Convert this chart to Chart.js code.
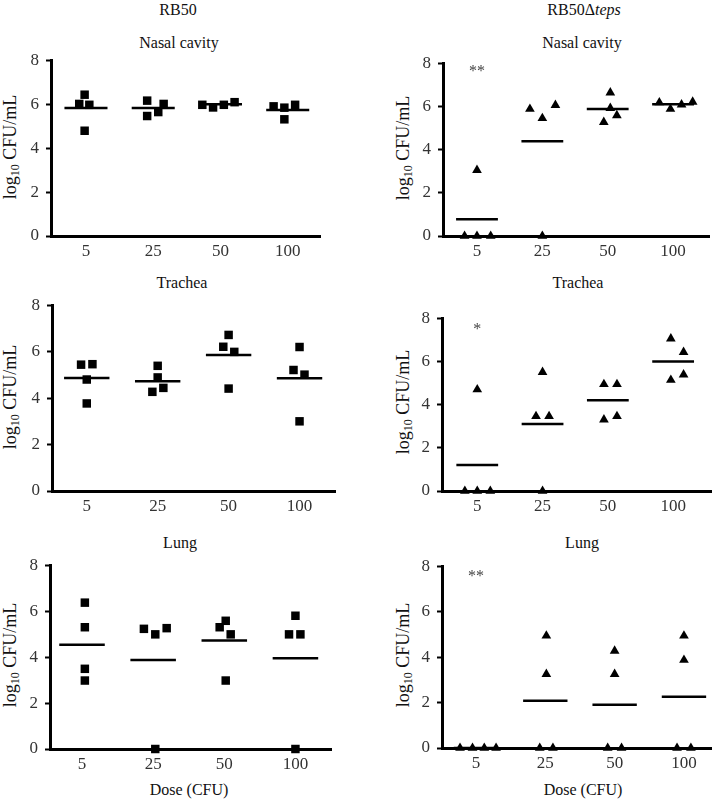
<!DOCTYPE html>
<html>
<head>
<meta charset="utf-8">
<script src="https://cdn.jsdelivr.net/npm/chart.js@4.4.1/dist/chart.umd.min.js"></script>
<style>
    body { margin: 0; background: #fff; }
    #page { position: relative; width: 723px; height: 801px; overflow: hidden;
            font-family: "Liberation Serif", "Times New Roman", serif; color: #111; }
    .lbl { position: absolute; transform: translate(-50%, -50%); font-size: 16px; line-height: 1; white-space: nowrap; }
    .ylab { position: absolute; transform: translate(-50%, -50%) rotate(-90deg); font-size: 18px; line-height: 1; white-space: nowrap; }
    .ylab sub { font-size: 12px; vertical-align: -3px; line-height: 0; }
    canvas { position: absolute; }
</style>
</head>
<body>
<div id="page">
    <div class="lbl" style="left:178px;top:10px">RB50</div>
    <div class="lbl" style="left:584px;top:10px">RB50Δ<i>teps</i></div>

    <div class="lbl" style="left:179px;top:43px">Nasal cavity</div>
    <div class="lbl" style="left:582px;top:43px">Nasal cavity</div>
    <div class="lbl" style="left:182px;top:283px">Trachea</div>
    <div class="lbl" style="left:578px;top:283px">Trachea</div>
    <div class="lbl" style="left:180px;top:543px">Lung</div>
    <div class="lbl" style="left:582px;top:543px">Lung</div>

    <div class="lbl" style="left:189px;top:790px">Dose (CFU)</div>
    <div class="lbl" style="left:583px;top:790px">Dose (CFU)</div>

    <div class="ylab" style="left:10px;top:147px">log<sub>10</sub> CFU/mL</div>
    <div class="ylab" style="left:403px;top:148px">log<sub>10</sub> CFU/mL</div>
    <div class="ylab" style="left:10px;top:397px">log<sub>10</sub> CFU/mL</div>
    <div class="ylab" style="left:403px;top:402px">log<sub>10</sub> CFU/mL</div>
    <div class="ylab" style="left:10px;top:655px">log<sub>10</sub> CFU/mL</div>
    <div class="ylab" style="left:403px;top:655px">log<sub>10</sub> CFU/mL</div>
</div>

<script>
// doses on the x axis
const doses = ['5', '25', '50', '100'];

// log10 CFU/mL per mouse, one inner array per dose
const rb50Nasal = [[6.43, 6.01, 5.97, 4.79], [6.16, 5.46, 5.64, 6.01], [5.97, 5.85, 5.97, 6.09], [5.90, 5.84, 5.97, 5.31]];
const rb50Trachea = [[5.44, 5.46, 4.80, 3.77], [5.39, 4.89, 4.27, 4.44], [6.72, 6.21, 5.99, 4.41], [6.20, 5.21, 5.01, 3.00]];
const rb50Lung = [[6.37, 5.30, 3.49, 2.98], [5.23, 4.99, 5.26, 0], [5.30, 5.58, 4.99, 2.98], [5.80, 4.99, 4.99, 0]];
const tepsNasal = [[0, 0, 0, 3.05], [5.88, 5.45, 6.06, 0], [6.64, 5.92, 5.27, 5.58], [6.18, 5.88, 6.08, 6.21]];
const tepsTrachea = [[0, 0, 0, 4.70], [5.50, 3.46, 3.46, 0], [4.94, 4.94, 3.30, 3.46], [7.05, 6.43, 5.14, 5.39]];
const tepsLung = [[0, 0, 0, 0], [4.94, 3.25, 0, 0], [4.27, 3.25, 0, 0], [4.94, 3.87, 0, 0]];

// horizontal spread of the points inside each dose group (dose units)
const rb50NasalDx = [[-0.02, -0.1, 0.05, -0.02], [-0.09, -0.09, 0.075, 0.155], [-0.27, -0.11, 0.05, 0.21], [-0.21, -0.05, 0.11, -0.05]];
const rb50TracheaDx = [[-0.08, 0.08, 0, 0], [0, 0, -0.075, 0.08], [0, -0.075, 0.08, 0], [0, -0.085, 0.07, 0]];
const rb50LungDx = [[0.04, 0.04, 0.04, 0.04], [-0.13, 0.03, 0.19, 0.03], [-0.065, 0.02, 0.09, 0.02], [0, -0.09, 0.07, 0]];
const tepsNasalDx = [[-0.19, 0, 0.21, 0], [-0.19, 0, 0.2, 0], [0.04, 0.04, -0.06, 0.14], [-0.21, -0.04, 0.13, 0.30]];
const tepsTracheaDx = [[-0.19, 0, 0.2, 0], [0, -0.1, 0.1, 0], [-0.06, 0.14, -0.06, 0.14], [-0.035, 0.16, -0.035, 0.16]];
const tepsLungDx = [[-0.23, -0.05, 0.12, 0.29], [0.015, 0.015, -0.08, 0.11], [0, 0, -0.1, 0.1], [0, 0, -0.1, 0.1]];

// group means (horizontal bars)
const rb50NasalMean = [5.82, 5.82, 6.0, 5.73];
const rb50TracheaMean = [4.87, 4.73, 5.86, 4.86];
const rb50LungMean = [4.54, 3.87, 4.72, 3.95];
const tepsNasalMean = [0.77, 4.39, 5.88, 6.1];
const tepsTracheaMean = [1.2, 3.1, 4.2, 6.0];
const tepsLungMean = [0, 2.08, 1.9, 2.25];

// significance marks above the 5 CFU group
const sigText = ['', '**', '', '*', '', '**'];
const sigLevel = [0, 7.8, 0, 7.66, 0, 7.7];

const LEFT_W = 48, PAD_T = 14, PAD_R = 8, BOTTOM_H = 30;
const FONT = '"Liberation Serif", "Times New Roman", serif';

// where each panel's axes sit on the page
const panels = [
    { vals: rb50Nasal, dx: rb50NasalDx, mean: rb50NasalMean, marker: 'rect', axisX: 51, top: 57, zero: 236, right: 320, xMin: 0.48, xMax: 4.48 },
    { vals: tepsNasal, dx: tepsNasalDx, mean: tepsNasalMean, marker: 'triangle', axisX: 443, top: 60, zero: 236, right: 709, xMin: 0.48, xMax: 4.55 },
    { vals: rb50Trachea, dx: rb50TracheaDx, mean: rb50TracheaMean, marker: 'rect', axisX: 52, top: 302, zero: 491, right: 335, xMin: 0.51, xMax: 4.5 },
    { vals: tepsTrachea, dx: tepsTracheaDx, mean: tepsTracheaMean, marker: 'triangle', axisX: 442, top: 315, zero: 491, right: 711, xMin: 0.46, xMax: 4.58 },
    { vals: rb50Lung, dx: rb50LungDx, mean: rb50LungMean, marker: 'rect', axisX: 50, top: 562, zero: 749, right: 331, xMin: 0.55, xMax: 4.5 },
    { vals: tepsLung, dx: tepsLungDx, mean: tepsLungMean, marker: 'triangle', axisX: 442, top: 563, zero: 748, right: 711, xMin: 0.51, xMax: 4.39 }
];

// draws the asterisks
const sigPlugin = {
    id: 'sig',
    afterDatasetsDraw(chart, args, opts) {
        if (!opts.text) return;
        const ctx = chart.ctx;
        ctx.save();
        ctx.font = '16px ' + FONT;
        ctx.fillStyle = '#444';
        ctx.textAlign = 'center';
        ctx.textBaseline = 'alphabetic';
        ctx.fillText(opts.text, chart.scales.x.getPixelForValue(1), chart.scales.y.getPixelForValue(opts.level) + 8);
        ctx.restore();
    }
};

const page = document.getElementById('page');

panels.forEach((p, k) => {
    const canvas = document.createElement('canvas');
    const w = p.right - p.axisX + LEFT_W + PAD_R;
    const h = p.zero - p.top + PAD_T + BOTTOM_H;
    canvas.width = w;
    canvas.height = h;
    canvas.style.left = (p.axisX - LEFT_W) + 'px';
    canvas.style.top = (p.top - PAD_T) + 'px';
    canvas.style.width = w + 'px';
    canvas.style.height = h + 'px';
    page.appendChild(canvas);

    const points = [];
    p.vals.forEach((group, i) => {
        group.forEach((v, j) => {
            points.push({ x: i + 1 + p.dx[i][j], y: v });
        });
    });

    const meanSets = p.mean.map((m, i) => ({
        type: 'line',
        data: [{ x: i + 1 - 0.32, y: m }, { x: i + 1 + 0.32, y: m }],
        showLine: true,
        borderColor: '#000',
        borderWidth: 2.5,
        pointRadius: 0,
        clip: false
    }));

    new Chart(canvas.getContext('2d'), {
        type: 'scatter',
        data: {
            datasets: [{
                data: points,
                pointStyle: p.marker,
                pointRadius: p.marker === 'rect' ? 6 : 5.6,
                backgroundColor: '#000',
                borderColor: '#000',
                borderWidth: 0,
                clip: false
            }].concat(meanSets)
        },
        options: {
            responsive: false,
            animation: false,
            layout: { padding: { top: PAD_T, right: PAD_R, left: 0, bottom: 0 } },
            plugins: {
                legend: { display: false },
                tooltip: { enabled: false },
                sig: { text: sigText[k], level: sigLevel[k] }
            },
            scales: {
                x: {
                    type: 'linear',
                    min: p.xMin,
                    max: p.xMax,
                    afterBuildTicks: (scale) => {
                        scale.ticks = doses.map((d, i) => ({ value: i + 1 }));
                    },
                    afterFit: (scale) => { scale.height = BOTTOM_H; },
                    ticks: {
                        callback: (value, index) => doses[index],
                        font: { family: FONT, size: 17 },
                        color: '#333',
                        padding: 5,
                        autoSkip: false,
                        maxRotation: 0
                    },
                    grid: { display: false, drawTicks: false },
                    border: { display: true, color: '#000', width: 3 }
                },
                y: {
                    min: 0,
                    max: 8,
                    afterFit: (scale) => { scale.width = LEFT_W; },
                    ticks: {
                        stepSize: 2,
                        font: { family: FONT, size: 17 },
                        color: '#333',
                        padding: 7
                    },
                    grid: { drawOnChartArea: false, tickLength: 5, tickWidth: 2, color: '#000' },
                    border: { display: true, color: '#000', width: 3 }
                }
            }
        },
        plugins: [sigPlugin]
    });
});
</script>
</body>
</html>
